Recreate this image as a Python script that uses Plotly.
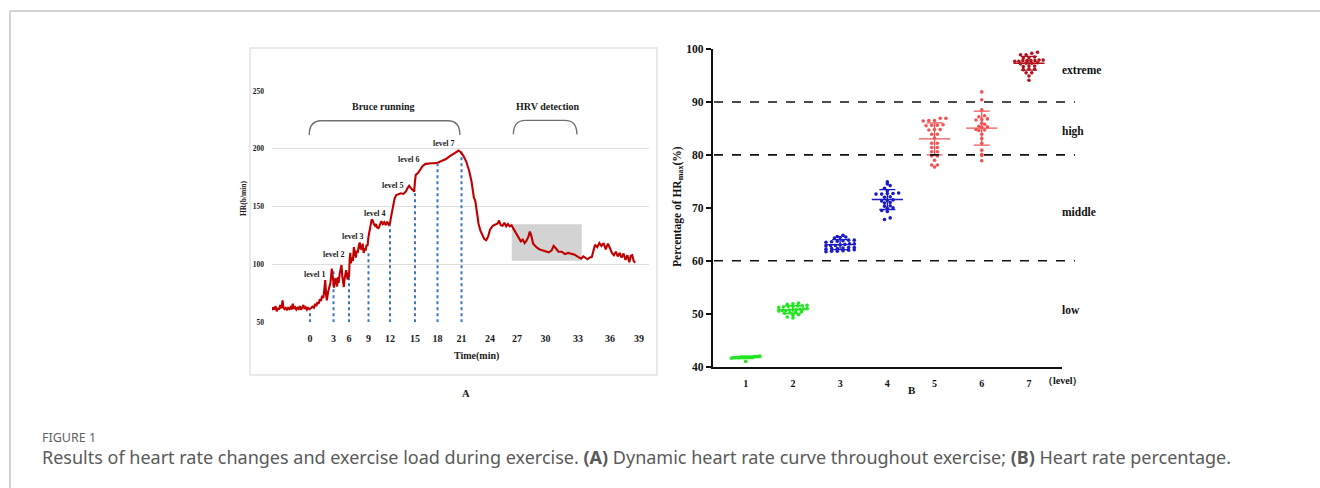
import numpy as np
import plotly.graph_objects as go

W, H = 1320, 488

# ---------------- Panel A data: heart-rate curve (time in min, HR in b/min) ----------------
hr_time = [-4.85, -4.7, -4.55, -4.4, -4.25, -4.1, -3.95, -3.8, -3.65, -3.5, -3.4, -3.25, -3.1, -2.95,
           -2.8, -2.65, -2.5, -2.35, -2.2, -2.05, -1.9, -1.75, -1.6, -1.45, -1.3, -1.15, -1.0, -0.85,
           -0.7, -0.55, -0.4, -0.25, -0.1, 0.1, 0.3, 0.5, 0.65, 0.8, 0.95, 1.1, 1.25, 1.4, 1.55, 1.7,
           1.85, 1.95, 2.05, 2.15, 2.3, 2.45, 2.6, 2.7, 2.78, 2.85, 2.95, 3.1, 3.25, 3.4, 3.55, 3.7,
           3.85, 4.0, 4.2, 4.4, 4.55, 4.7, 4.85, 5.0, 5.15, 5.3, 5.45, 5.6, 5.75, 5.9, 6.0, 6.1, 6.2,
           6.3, 6.45, 6.6, 6.75, 6.9, 7.05, 7.2, 7.35, 7.5, 7.65, 7.8, 7.95, 8.1, 8.25, 8.4, 8.55, 8.7,
           8.85, 9.0, 9.15, 9.3, 9.45, 9.6, 9.75, 9.9, 10.05, 10.2, 10.4, 10.6, 10.8, 11.0, 11.2, 11.4,
           11.6, 11.8, 12.0, 12.15, 12.35, 12.55, 12.75, 13.0, 13.3, 13.6, 13.9, 14.1, 14.3, 14.5, 14.7,
           14.9, 15.0, 15.1, 15.4, 15.7, 16.0, 16.4, 16.8, 17.2, 17.6, 18.0, 18.5, 19.0, 19.5, 20.0,
           20.4, 20.65, 20.9, 21.2, 21.5, 21.8, 22.05, 22.2, 22.3, 22.45, 22.6, 22.8, 23.0, 23.2, 23.4,
           23.6, 23.8, 24.0, 24.3, 24.6, 24.85, 25.0, 25.2, 25.4, 25.6, 25.8, 26.0, 26.2, 26.4, 26.6,
           26.8, 27.0, 27.2, 27.4, 27.6, 27.8, 28.0, 28.2, 28.35, 28.5, 28.7, 28.9, 29.1, 29.4, 29.7,
           30.0, 30.3, 30.55, 30.75, 30.95, 31.2, 31.5, 31.8, 32.1, 32.4, 32.7, 33.0, 33.3, 33.5, 33.7,
           33.9, 34.1, 34.3, 34.45, 34.6, 34.8, 35.0, 35.2, 35.4, 35.6, 35.8, 36.0, 36.2, 36.4, 36.6,
           36.8, 37.0, 37.2, 37.4, 37.6, 37.8, 38.0, 38.15, 38.3, 38.45, 38.6]
hr_value = [60.5, 63, 61, 64, 59.5, 62.5, 61, 65, 62, 69, 63, 61.5, 62.5, 61,
            62.5, 61.5, 63, 61, 66, 61.5, 63, 61, 62.5, 61.5, 64, 61, 62.5, 65,
            61.5, 63, 61, 62.5, 61.5, 62, 63.5, 62.5, 66, 64, 67.5, 66, 70, 68.5, 73, 71,
            80, 86.5, 74, 69, 76, 80, 84, 90, 96.5, 92, 84, 80, 86, 88, 84, 81,
            89, 84, 92, 95, 99.5, 90, 82, 80.5, 88, 92, 95, 90, 87, 93, 89, 104, 110,
            101, 106, 103, 115, 110, 106, 112, 110, 116, 119, 113, 114, 118, 110, 114, 112, 117,
            116, 124, 131, 134, 139, 138, 135, 133.5, 135, 132, 131.5, 134, 137.5, 135, 136.5, 134,
            137, 134.5, 136, 142, 150, 157, 160, 161, 161.5, 161, 163, 166, 168, 166, 164.5,
            163, 172, 177.5, 179, 182, 185, 187, 187.5, 187.5, 187.5, 188, 189.5, 191, 193.5, 195.5,
            197.5, 198.5, 197, 194, 189, 181, 172, 163, 158, 155, 146, 135, 129, 125.5, 122,
            121, 124, 130, 133.5, 134.5, 135.5, 138, 134, 133.5, 136, 133, 135, 133, 134, 131,
            128, 126, 122, 120, 121.5, 118.5, 120.5, 124, 128.5, 125, 118, 116, 114.5, 113, 112,
            111, 110.5, 112, 116, 114, 111, 111, 109, 110, 109.5, 108.5, 106.5, 105, 107, 105.5,
            104.5, 106, 106.5, 112, 117, 115, 118.5, 116, 118.5, 113, 118, 114, 110, 108, 111,
            107, 110, 106, 109.5, 104, 108, 102, 107.5, 108, 103, 101.5]

time_ticks = [0, 3, 6, 9, 12, 15, 18, 21, 24, 27, 30, 33, 36, 39]
hr_ticks = [50, 100, 150, 200, 250]

stage_times = [0, 3, 6, 9, 12, 15, 18, 21]
stage_line_top = [61, 95, 89.5, 109.7, 135.6, 164.4, 186.9, 197.6]
stage_names = ["level 1", "level 2", "level 3", "level 4", "level 5", "level 6", "level 7"]
stage_label_time = [0.64, 3.16, 6.67, 9.91, 12.32, 14.32, 18.81]
stage_label_hr = [91.5, 108.2, 124.0, 144.2, 168.7, 190.4, 204.8]

hrv_window_time = [26.42, 33.35]
hrv_window_hr = [103.3, 134.7]
bruce_span = [-0.1, 20.8]
hrv_span = [26.6, 32.9]

# ---------------- Panel B data: % of HRmax per level ----------------
levels = [1, 2, 3, 4, 5, 6, 7]
pct_level1 = [41.9, 41.8, 41.8, 41.7, 41.8, 41.9, 41.7, 41.8, 41.6, 41.8, 41.9, 41.7, 41.8, 42.0, 41.7, 41.8, 41.0]
pct_level2 = [52.0, 51.9, 51.8, 51.6, 51.5, 51.4, 51.5, 51.3, 51.4, 50.9, 50.8, 51.0, 50.7, 50.9,
              50.8, 50.6, 50.5, 50.3, 50.2, 50.4, 49.8, 49.7, 49.4, 49.2, 50.6, 51.2, 50.1]
pct_level3 = [64.8, 64.5, 64.4, 64.3, 64.6, 63.9, 63.8, 63.7, 63.6, 63.5, 63.9, 63.2, 63.1, 63.0, 62.9,
              62.8, 62.9, 63.2, 62.5, 62.4, 62.3, 62.2, 62.5, 62.3, 62.0, 61.9, 61.8, 61.7, 62.1, 61.8]
pct_level4 = [74.9, 74.5, 74.2, 73.7, 73.2, 72.8, 72.7, 72.7, 72.6, 72.6, 72.1, 72.0, 71.5, 71.4, 71.3,
              71.0, 70.9, 70.4, 70.3, 70.0, 69.9, 69.5, 69.3, 68.1, 67.8]
pct_level5 = [86.9, 86.9, 86.5, 86.5, 86.4, 85.6, 85.6, 85.7, 85.5, 84.8, 84.8, 84.7, 83.9, 83.9, 83.2,
              82.2, 82.2, 81.4, 81.4, 80.6, 80.6, 79.8, 79.8, 79.0, 78.1, 78.1, 77.7]
pct_level6 = [91.9, 90.4, 88.5, 87.4, 87.2, 86.8, 86.7, 86.6, 86.0, 85.8, 85.4, 85.3, 85.2, 84.8, 84.7,
              84.6, 83.9, 83.1, 82.2, 80.9, 80.1, 79.9, 78.9]
pct_level7 = [99.4, 99.2, 98.9, 98.9, 98.5, 98.4, 98.3, 97.9, 97.8, 97.8, 97.8, 97.7, 97.8, 97.9, 97.7,
              97.3, 97.3, 97.2, 97.4, 96.8, 96.8, 96.7, 96.2, 96.2, 96.1, 95.5, 95.5, 94.9, 94.1]
pct_by_level = [pct_level1, pct_level2, pct_level3, pct_level4, pct_level5, pct_level6, pct_level7]
level_colors = ["#22e622", "#22e622", "#1a1ac8", "#1a1ac8", "#f25454", "#f25454", "#b3121c"]

thresholds = [60, 80, 90]
zone_names = ["low", "middle", "high", "extreme"]
zone_label_y = [50.7, 69.3, 84.4, 96.0]

# ---------------- helpers ----------------
def px(x):
    return x / W

def py(y):
    return 1 - y / H

# Panel A time axis is unevenly spaced in the original chart (display units = pixels)
tick_display = [310, 333.5, 349, 368.5, 390, 415, 437.5, 461.5, 490, 517, 545.5, 578, 610, 639]

def tx(t):
    t = np.atleast_1d(np.asarray(t, dtype=float))
    out = np.interp(t, time_ticks, tick_display)
    lo = t < time_ticks[0]
    out[lo] = tick_display[0] + (t[lo] - time_ticks[0]) * (tick_display[1] - tick_display[0]) / 3
    hi = t > time_ticks[-1]
    out[hi] = tick_display[-1] + (t[hi] - time_ticks[-1]) * (tick_display[-1] - tick_display[-2]) / 3
    return out

SERIF = "Liberation Serif"

def note(x, y, text, size, xref="paper", yref="paper", color="#1a1a1a", bold=True,
         family=SERIF, xanchor="center", yanchor="middle", angle=0):
    return dict(x=x, y=y, xref=xref, yref=yref, text=text, showarrow=False,
                xanchor=xanchor, yanchor=yanchor, textangle=angle,
                font=dict(family=family, size=size, color=color, weight="bold" if bold else "normal"))

fig = go.Figure()

# ---- Panel A ----
fig.add_trace(go.Scatter(x=tx(hr_time), y=hr_value, mode="lines",
                         line=dict(color="#c00000", width=2.1), xaxis="x", yaxis="y",
                         showlegend=False, hoverinfo="skip"))

shapes = []
shapes.append(dict(type="rect", xref="x", yref="y", x0=tx(hrv_window_time[0])[0], x1=tx(hrv_window_time[1])[0],
                   y0=hrv_window_hr[0], y1=hrv_window_hr[1], fillcolor="#d3d3d3", line=dict(width=0), layer="between"))
for t, top in zip(stage_times, stage_line_top):
    xx = tx(t)[0]
    shapes.append(dict(type="line", xref="x", yref="y", x0=xx, x1=xx, y0=50, y1=top,
                       line=dict(color="#3a78c0", width=2, dash="dot"), layer="between"))

def brace(span, y_top, y_end, r=12):
    x0, x1 = tx(span[0])[0], tx(span[1])[0]
    return (f"M {x0},{y_end} Q {x0},{y_top} {x0 + r},{y_top} L {x1 - r},{y_top} "
            f"Q {x1},{y_top} {x1},{y_end}")
shapes.append(dict(type="path", xref="x", yref="y", path=brace(bruce_span, 224.3, 212.0),
                   line=dict(color="#707070", width=1.4)))
shapes.append(dict(type="path", xref="x", yref="y", path=brace(hrv_span, 224.6, 212.5),
                   line=dict(color="#707070", width=1.4)))
shapes.append(dict(type="rect", xref="paper", yref="paper", x0=px(250), x1=px(657), y0=py(375), y1=py(48),
                   line=dict(color="#e3e3e3", width=1.5), fillcolor="rgba(0,0,0,0)"))
shapes.append(dict(type="line", xref="paper", yref="paper", x0=px(10), x1=1, y0=py(11), y1=py(11),
                   line=dict(color="#c4c4c4", width=1.5)))
shapes.append(dict(type="line", xref="paper", yref="paper", x0=px(10), x1=px(10), y0=0, y1=py(11),
                   line=dict(color="#c4c4c4", width=1.5)))

annotations = []
for name, t, hv in zip(stage_names, stage_label_time, stage_label_hr):
    annotations.append(note(tx(t)[0], hv, name, 8, xref="x", yref="y"))
annotations.append(note(tx(11.06)[0], 236.5, "Bruce running", 10, xref="x", yref="y"))
annotations.append(note(tx(30.23)[0], 236.5, "HRV detection", 10, xref="x", yref="y"))
annotations.append(note(px(476.7), py(356), "Time(min)", 10))
annotations.append(note(px(243.5), py(198.5), "HR(b/min)", 7.5, angle=-90))
annotations.append(note(px(465.7), py(393.5), "A", 10.5))

# ---- Panel B ----
def swarm_offsets(vals, rowh=0.6, dx=0.12, maxw=0.3):
    vals = np.asarray(vals, dtype=float)
    rows = np.round((vals - vals.mean()) / rowh)
    offs = np.zeros(len(vals))
    for r in np.unique(rows):
        idx = np.where(rows == r)[0]
        idx = idx[np.argsort(vals[idx])]
        k = len(idx)
        step = dx if k < 2 else min(dx, 2 * maxw / (k - 1))
        offs[idx] = (np.arange(k) - (k - 1) / 2) * step
    return offs

for lvl, vals, col in zip(levels, pct_by_level, level_colors):
    vals_a = np.asarray(vals, dtype=float)
    fig.add_trace(go.Scatter(x=lvl + swarm_offsets(vals_a), y=vals_a, mode="markers",
                             marker=dict(color=col, size=3.6, line=dict(width=0)),
                             xaxis="x2", yaxis="y2", showlegend=False, hoverinfo="skip"))
    m, s = vals_a.mean(), vals_a.std(ddof=1)
    lx = [lvl - 0.33, lvl + 0.33, None, lvl, lvl, None, lvl - 0.17, lvl + 0.17, None, lvl - 0.17, lvl + 0.17]
    ly = [m, m, None, m - s, m + s, None, m + s, m + s, None, m - s, m - s]
    fig.add_trace(go.Scatter(x=lx, y=ly, mode="lines", line=dict(color=col, width=1.3),
                             xaxis="x2", yaxis="y2", showlegend=False, hoverinfo="skip", connectgaps=False))

for th in thresholds:
    shapes.append(dict(type="line", xref="paper", yref="y2", x0=px(714), x1=px(1075), y0=th, y1=th,
                       line=dict(color="#111", width=1.6, dash="dash")))

for name, yv in zip(zone_names, zone_label_y):
    annotations.append(note(px(1060), yv, name, 11.5, yref="y2", xanchor="left", color="#111"))
annotations.append(note(px(1062), py(380.5), "（level）", 10, color="#111"))
annotations.append(note(px(912), py(390), "B", 11, color="#111"))
annotations.append(note(px(678), py(207), "Percentage of HR<sub>max</sub>(%)", 11.5, color="#111", angle=-90))

# ---- caption ----
annotations.append(note(px(40), py(437), "FIGURE 1", 12.5, family="Noto Sans", color="#626262",
                        bold=False, xanchor="left"))
annotations.append(note(px(40), py(457),
                        "Results of heart rate changes and exercise load during exercise. <b>(A)</b> Dynamic heart rate curve throughout exercise; <b>(B)</b> Heart rate percentage.",
                        18, family="Noto Sans", color="#5a5a5a", bold=False, xanchor="left"))

fig.update_layout(
    width=W, height=H, margin=dict(l=0, r=0, t=0, b=0, pad=0), autosize=False,
    paper_bgcolor="white", plot_bgcolor="rgba(0,0,0,0)", showlegend=False,
    shapes=shapes, annotations=annotations,
    xaxis=dict(domain=[px(272), px(649)], range=[272, 649], showgrid=False, zeroline=False, showline=False,
               tickmode="array", tickvals=list(tx(time_ticks)), ticktext=[str(t) for t in time_ticks],
               ticks="", ticklabelstandoff=9, automargin=False,
               tickfont=dict(family=SERIF, size=10, color="#1a1a1a", weight="bold"), anchor="y"),
    yaxis=dict(domain=[py(322.3), py(91)], range=[50, 250], tickvals=hr_ticks, showgrid=True,
               gridcolor="#dedede", gridwidth=1.3, zeroline=False, showline=False, ticks="",
               ticklabelstandoff=7, automargin=False,
               tickfont=dict(family=SERIF, size=7.5, color="#1a1a1a", weight="bold"), anchor="x"),
    xaxis2=dict(domain=[px(713), px(1062)], range=[0.307, 7.70], showgrid=False, zeroline=False,
                showline=True, linecolor="#111", linewidth=2.2, tickvals=levels, ticks="",
                ticklabelstandoff=6, automargin=False,
                tickfont=dict(family=SERIF, size=10, color="#111", weight="bold"), anchor="y2"),
    yaxis2=dict(domain=[py(366.7), py(49)], range=[40, 100], tickvals=[40, 50, 60, 70, 80, 90, 100],
                showgrid=False, zeroline=False, showline=True, linecolor="#111", linewidth=2.2,
                ticks="outside", ticklen=5, tickwidth=2, tickcolor="#111", automargin=False,
                tickfont=dict(family=SERIF, size=11.5, color="#111", weight="bold"), anchor="x2"),
)

fig.write_html("out.html")
